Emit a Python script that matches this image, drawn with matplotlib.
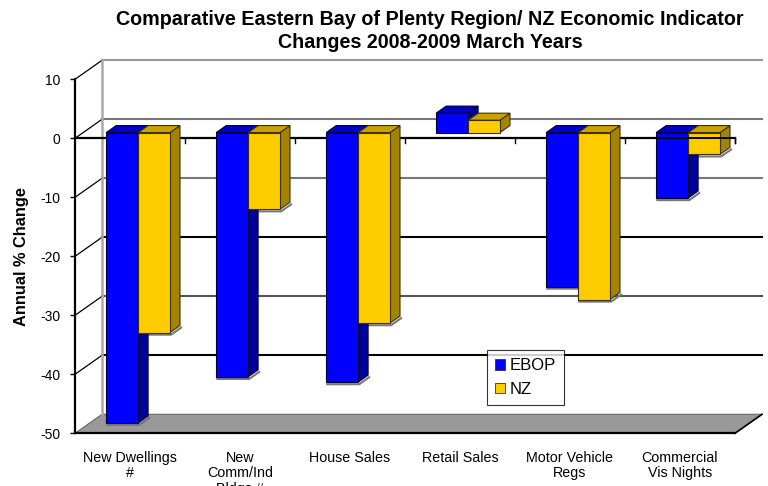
import matplotlib
matplotlib.use("Agg")
import matplotlib.pyplot as plt
from matplotlib.patches import Polygon, Patch

plt.rcParams['font.family'] = ['Liberation Sans', 'DejaVu Sans']

categories = ["New Dwellings\n#", "New\nComm/Ind\nBldgs #", "House Sales", "Retail Sales",
              "Motor Vehicle\nRegs", "Commercial\nVis Nights"]
series_names = ["EBOP", "NZ"]
ebop = [-49.2, -41.4, -42.3, 3.3, -26.1, -11.1]
nz = [-33.9, -13.0, -32.3, 2.1, -28.3, -3.7]
yticks = [10, 0, -10, -20, -30, -40, -50]
title = "Comparative Eastern Bay of Plenty Region/ NZ Economic Indicator\nChanges 2008-2009 March Years"
ylabel = "Annual % Change"

W_PX, H_PX = 768, 486
fig = plt.figure(figsize=(W_PX / 100, H_PX / 100), dpi=100)
fig.patch.set_facecolor("white")

# front plane of the 3D box, in pixels
left_px, right_px = 75, 735
top_px, bot_px = 79.3, 433.3
ax = fig.add_axes([left_px / W_PX, 1 - bot_px / H_PX,
                   (right_px - left_px) / W_PX, (bot_px - top_px) / H_PX])
ax.set_xlim(-0.5, len(categories) - 0.5)
ax.set_ylim(-50, 10)
ax.patch.set_alpha(0)

# depth offset (data units) from front plane to back wall
DX = 27 / 110
DY = 19 / 5.9
ymin, ymax = -50, 10
x0, x1 = -0.5, len(categories) - 0.5

def proj(x, v, d):
    return (x + d * DX, v + d * DY)

# floor
floor = Polygon([proj(x0, ymin, 0), proj(x1, ymin, 0), proj(x1, ymin, 1), proj(x0, ymin, 1)],
                closed=True, facecolor="#999999", edgecolor="#666666", lw=0.8, zorder=1, clip_on=False)
ax.add_patch(floor)
ax.plot([x0, x1], [ymin, ymin], color="black", lw=1.6, zorder=2, clip_on=False)
ax.plot(*zip(proj(x1, ymin, 0), proj(x1, ymin, 1)), color="black", lw=1.2, zorder=2, clip_on=False)

# back wall gridlines
grid_colors = {10: "#999999", 0: "#777777", -10: "#777777", -20: "black", -30: "#555555", -40: "black"}
for v in [10, 0, -10, -20, -30, -40]:
    a = proj(x0, v, 1)
    b = proj(x1, v, 1)
    ax.plot([a[0], b[0]], [a[1], b[1]], color=grid_colors[v], lw=1.5, zorder=1, clip_on=False)
    # left wall diagonal
    c = proj(x0, v, 0)
    ax.plot([c[0], a[0]], [c[1], a[1]], color="black", lw=0.9, zorder=1, clip_on=False)
# back wall left edge
a = proj(x0, ymin, 1)
b = proj(x0, ymax, 1)
ax.plot([a[0], b[0]], [a[1], b[1]], color="#aaaaaa", lw=1.8, zorder=1, clip_on=False)

# zero line on front plane (behind bars)
ax.plot([x0, x1], [0, 0], color="black", lw=1.6, zorder=2, clip_on=False)
for k in range(1, len(categories) + 1):
    xb = x0 + k
    ax.plot([xb, xb], [0, -0.8], color="black", lw=1.0, zorder=2, clip_on=False)

# bars
W = 0.29
d0, d1 = 0.3, 0.67
styles = [
    dict(front="#0000FF", top="#0000C8", side="#00009A", edge="#000033"),
    dict(front="#FFCC00", top="#C9A200", side="#A38300", edge="#3A3000"),
]
for i in range(len(categories)):
    for s, vals in enumerate([ebop, nz]):
        v = vals[i]
        st = styles[s]
        xa = i - W + s * W
        xb = xa + W
        lo, hi = min(0, v), max(0, v)
        # shadow under bar
        if v < 0:
            sh = [proj(xa + 0.01, lo - 0.35, d0), proj(xb + 0.01, lo - 0.35, d0),
                  proj(xb + 0.01, lo - 0.35, d1)]
            ax.plot(*zip(*sh), color="#777777", lw=1.5, zorder=3, clip_on=False)
        front = Polygon([proj(xa, lo, d0), proj(xb, lo, d0), proj(xb, hi, d0), proj(xa, hi, d0)],
                        closed=True, facecolor=st["front"], edgecolor=st["edge"], lw=0.8, zorder=4)
        top = Polygon([proj(xa, hi, d0), proj(xb, hi, d0), proj(xb, hi, d1), proj(xa, hi, d1)],
                      closed=True, facecolor=st["top"], edgecolor=st["edge"], lw=0.8, zorder=4)
        side = Polygon([proj(xb, lo, d0), proj(xb, lo, d1), proj(xb, hi, d1), proj(xb, hi, d0)],
                       closed=True, facecolor=st["side"], edgecolor=st["edge"], lw=0.8, zorder=4)
        for p in (side, top, front):
            ax.add_patch(p)

# zero line drawn over the last category (as in the reference rendering)
ax.plot([x1 - 1, x1], [0, 0], color="black", lw=1.4, zorder=6, clip_on=False)
ax.plot([x1, x1], [0, -0.8], color="black", lw=1.0, zorder=6, clip_on=False)

# axes styling
for sp in ["top", "right", "bottom"]:
    ax.spines[sp].set_visible(False)
ax.spines["left"].set_color("black")
ax.spines["left"].set_linewidth(1.6)
ax.set_yticks(yticks)
ax.set_yticklabels([str(t) for t in yticks], fontsize=10)
ax.tick_params(axis="y", direction="out", length=3.6, width=1, pad=7, colors="black")
ax.set_xticks(range(len(categories)))
ax.set_xticklabels(categories, fontsize=10.3, linespacing=1.1, va="top")
ax.tick_params(axis="x", length=0, pad=13)

fig.text(430 / W_PX, 1 - 31 / H_PX, title, ha="center", va="center", fontsize=14.2,
         fontweight="bold", linespacing=1.25)
fig.text(22 / W_PX, 1 - 257 / H_PX, ylabel, ha="center", va="center", rotation=90,
         fontsize=11.8, fontweight="bold")

handles = [Patch(facecolor=styles[0]["front"], edgecolor="#333333", lw=0.6),
           Patch(facecolor=styles[1]["front"], edgecolor="#333333", lw=0.6)]
leg = ax.legend(handles, series_names, loc="upper left",
                bbox_to_anchor=(487 / W_PX, 1 - 350 / H_PX), bbox_transform=fig.transFigure,
                fontsize=12, frameon=True, fancybox=False, shadow=False,
                handlelength=0.6, handleheight=0.6, handletextpad=0.25,
                borderpad=0.5, labelspacing=0.5, borderaxespad=0)
leg.get_frame().set_edgecolor("black")
leg.get_frame().set_linewidth(0.8)
leg.set_zorder(10)

fig.savefig("out.png", dpi=100, facecolor="white")
